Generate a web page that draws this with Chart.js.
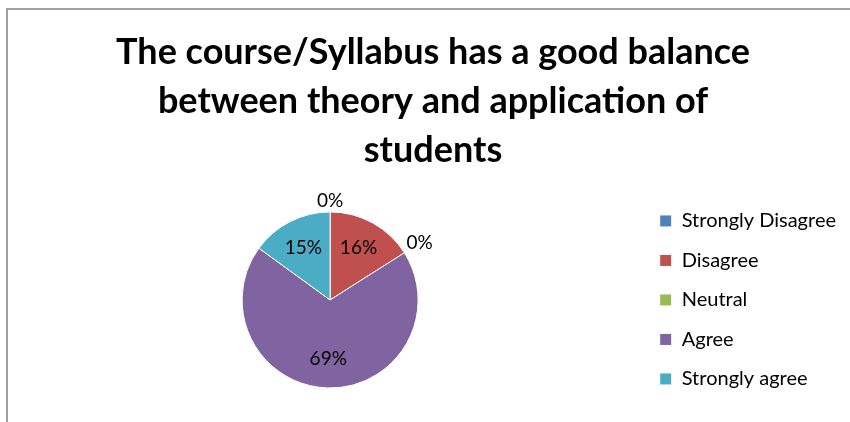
<!DOCTYPE html>
<html>
<head>
<meta charset="utf-8">
<script src="https://cdn.jsdelivr.net/npm/chart.js@4/dist/chart.umd.min.js"></script>
<style>
  html, body { margin: 0; padding: 0; background: #fff; }
  #wrap { position: relative; width: 850px; height: 422px; overflow: hidden; }
  #frame {
    position: absolute; left: 6px; top: 8px; width: 900px; height: 500px;
    border-left: 2px solid #a0a0a0; border-top: 2px solid #a0a0a0;
  }
  canvas { position: absolute; left: 0; top: 0; }
</style>
</head>
<body>
<div id="wrap">
  <div id="frame"></div>
  <canvas id="chart" width="850" height="422"></canvas>
</div>
<script>
// values
const categories = ["Strongly Disagree", "Disagree", "Neutral", "Agree", "Strongly agree"];
const percents = [0, 16, 0, 69, 15];
const colors = ["#4F81BD", "#C0504D", "#9BBB59", "#8064A2", "#4BACC6"];
const titleLines = [
  "The course/Syllabus has a good balance",
  "between theory and application of",
  "students"
];

const FONT = "Lato, 'Open Sans', sans-serif";

// percentage labels: inside the slice, or just outside when the slice is empty
const pieLabels = {
  id: "pieLabels",
  afterDatasetsDraw(chart) {
    const { ctx } = chart;
    const meta = chart.getDatasetMeta(0);
    ctx.save();
    ctx.font = "19px " + FONT;
    ctx.fillStyle = "#000";
    ctx.textAlign = "center";
    ctx.textBaseline = "middle";
    meta.data.forEach((arc, i) => {
      const { x, y, startAngle, endAngle, outerRadius } = arc.getProps(
        ["x", "y", "startAngle", "endAngle", "outerRadius"], true);
      const mid = (startAngle + endAngle) / 2;
      const empty = percents[i] === 0;
      const r = empty ? outerRadius + (i === 0 ? 11 : 18) : outerRadius * 0.67;
      ctx.fillText(percents[i] + "%", x + Math.cos(mid) * r, y + Math.sin(mid) * r);
    });
    ctx.restore();
  }
};

new Chart(document.getElementById("chart"), {
  type: "pie",
  data: {
    labels: categories,
    datasets: [{
      data: percents,
      backgroundColor: colors,
      borderColor: "#fff",
      borderWidth: 1,
      radius: 88
    }]
  },
  options: {
    responsive: false,
    animation: false,
    layout: { padding: { left: 20, right: 4, top: 0, bottom: 2 } },
    plugins: {
      title: {
        display: true,
        text: titleLines,
        color: "#000",
        font: { family: FONT, size: 36, weight: "bold", lineHeight: 1.36 },
        padding: { top: 28, bottom: 5 }
      },
      legend: {
        position: "right",
        align: "center",
        fullSize: false,
        labels: {
          color: "#000",
          font: { family: FONT, size: 20 },
          boxWidth: 12,
          boxHeight: 12,
          padding: 19.5
        }
      },
      tooltip: { enabled: false }
    }
  },
  plugins: [pieLabels]
});
</script>
</body>
</html>
